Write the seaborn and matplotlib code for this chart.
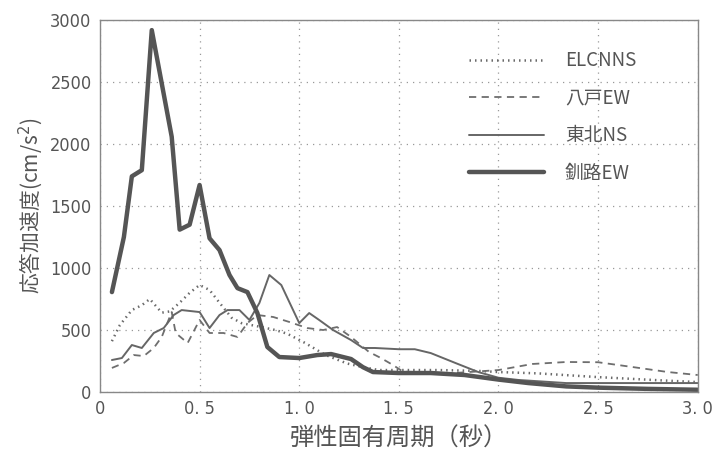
import matplotlib
matplotlib.use("Agg")
import matplotlib.pyplot as plt
from matplotlib import font_manager as fm
import seaborn as sns
import pandas as pd

# ---- data (period in s, response acceleration in cm/s^2) ----
elc_t = [0.06, 0.10, 0.16, 0.21, 0.25, 0.31, 0.35, 0.40, 0.45, 0.50, 0.55, 0.60,
         0.66, 0.71, 0.76, 0.81, 0.88, 0.94, 1.03, 1.13, 1.24, 1.32, 1.40, 1.50,
         1.70, 1.90, 2.00, 2.20, 2.50, 2.80, 3.00]
elc_a = [410, 540, 661, 700, 750, 640, 650, 720, 800, 863, 823, 720, 600, 556,
         540, 524, 500, 470, 395, 300, 230, 200, 177, 177, 177, 170, 161, 150,
         120, 95, 80]

hachi_t = [0.06, 0.12, 0.17, 0.22, 0.27, 0.31, 0.36, 0.38, 0.44, 0.50, 0.55, 0.62,
           0.69, 0.74, 0.79, 0.87, 0.95, 1.04, 1.12, 1.19, 1.26, 1.35, 1.41, 1.47,
           1.52, 1.75, 2.00, 2.17, 2.34, 2.50, 2.67, 2.85, 3.00]
hachi_a = [194, 234, 298, 290, 355, 444, 645, 476, 395, 581, 476, 476, 444, 556,
           621, 605, 565, 516, 500, 524, 444, 323, 274, 218, 165, 150, 177, 226,
           242, 240, 202, 161, 137]

tohoku_t = [0.06, 0.11, 0.16, 0.21, 0.27, 0.32, 0.37, 0.41, 0.50, 0.55, 0.60, 0.64,
            0.70, 0.75, 0.80, 0.85, 0.91, 1.00, 1.05, 1.10, 1.17, 1.26, 1.32, 1.38,
            1.50, 1.58, 1.66, 1.79, 1.90, 2.00, 2.10, 2.34, 2.60, 3.00]
tohoku_a = [258, 274, 379, 355, 476, 516, 621, 661, 645, 516, 621, 661, 661, 581,
            718, 944, 863, 556, 637, 581, 500, 419, 355, 355, 345, 345, 314, 230,
            160, 115, 97, 72, 72, 72]

kushiro_t = [0.06, 0.12, 0.16, 0.21, 0.26, 0.36, 0.40, 0.45, 0.50, 0.55, 0.60,
             0.65, 0.69, 0.74, 0.79, 0.84, 0.90, 1.00, 1.09, 1.16, 1.26, 1.32,
             1.37, 1.50, 1.66, 1.83, 2.00, 2.15, 2.34, 2.50, 2.75, 3.00]
kushiro_a = [806, 1250, 1740, 1790, 2920, 2060, 1310, 1350, 1670, 1240, 1145,
             944, 838, 806, 637, 363, 282, 274, 298, 306, 266, 200, 161, 153,
             153, 137, 100, 72, 45, 35, 25, 18]

names = ["ELCNNS", "八戸EW", "東北NS", "釧路EW"]
x_ticks = [0, 0.5, 1.0, 1.5, 2.0, 2.5, 3.0]
x_tick_labels = ["0", "0. 5", "1. 0", "1. 5", "2. 0", "2. 5", "3. 0"]
y_ticks = [0, 500, 1000, 1500, 2000, 2500, 3000]
y_tick_labels = ["0", "500", "1000", "1500", "2000", "2500", "3000"]

sns.set_theme(style="white")
plt.rcParams["font.family"] = ["Noto Sans CJK JP", "DejaVu Sans"]

# pick a narrow font for the tick labels if one is installed
tick_font = dict(family="DejaVu Sans", stretch="normal")
for fam in ["Liberation Sans Narrow"]:
    try:
        fm.findfont(fm.FontProperties(family=fam), fallback_to_default=False)
        tick_font = dict(family=fam, stretch="normal")
        break
    except Exception:
        pass
else:
    p = fm.findfont(fm.FontProperties(family="DejaVu Sans", stretch="condensed"))
    if "Condensed" in p:
        tick_font = dict(family="DejaVu Sans", stretch="condensed")

fig = plt.figure(figsize=(7.12, 4.59), dpi=100)
ax = fig.add_axes([0.1404, 0.146, 0.8396, 0.810])

styles = [
    dict(linestyle=(0, (0.6, 1.6)), linewidth=1.8, color="#6a6a6a"),
    dict(linestyle=(0, (4, 3)), linewidth=1.3, color="#6e6e6e"),
    dict(linestyle="-", linewidth=1.4, color="#666666"),
    dict(linestyle="-", linewidth=3.2, color="#555555"),
]
series = [(elc_t, elc_a), (hachi_t, hachi_a), (tohoku_t, tohoku_a), (kushiro_t, kushiro_a)]
for name, (t, a), st in zip(names, series, styles):
    df = pd.DataFrame({"T": t, "A": a})
    sns.lineplot(data=df, x="T", y="A", ax=ax, label=name, **st)

ax.set_xlim(0, 3.0)
ax.set_ylim(0, 3000)
ax.set_xticks(x_ticks)
ax.set_xticklabels(x_tick_labels)
ax.set_yticks(y_ticks)
ax.set_yticklabels(y_tick_labels)
ax.tick_params(axis="both", labelsize=13, colors="#555555", length=0, pad=6)
for lab in ax.get_xticklabels() + ax.get_yticklabels():
    lab.set_family(tick_font["family"])
    lab.set_stretch(tick_font["stretch"])
ax.grid(True, linestyle=(0, (1, 4)), color="#999999", linewidth=0.9)
for sp in ax.spines.values():
    sp.set_color("#888888")
    sp.set_linewidth(1.0)

ax.set_xlabel("弾性固有周期（秒）", fontsize=17.5, color="#555555", labelpad=5)
ax.set_ylabel("応答加速度(cm/s$^2$)", fontsize=15, color="#555555", labelpad=4)

leg = ax.legend(loc="upper left", bbox_to_anchor=(0.618, 0.919), frameon=False,
                fontsize=13.5, handlelength=4.0, handletextpad=1.1,
                labelspacing=0.88, labelcolor="#555555", borderaxespad=0,
                borderpad=0)

fig.savefig("out.png", dpi=100)
